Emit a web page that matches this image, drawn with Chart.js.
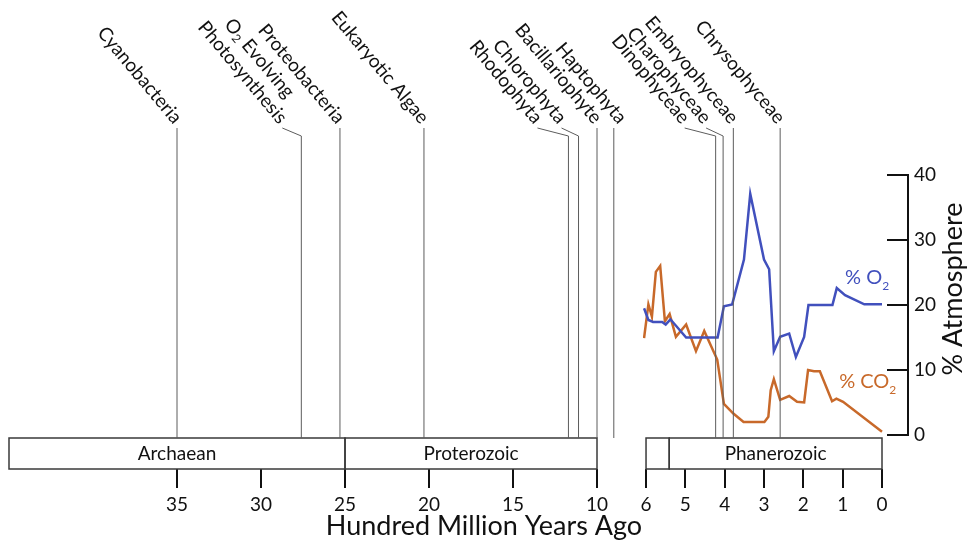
<!DOCTYPE html>
<html>
<head>
<meta charset="utf-8">
<script src="https://cdn.jsdelivr.net/npm/chart.js@4"></script>
<style>
  html, body { margin: 0; padding: 0; background: #fff; }
  #wrap { position: relative; width: 968px; height: 540px; }
  #wrap canvas { position: absolute; left: 0; top: 0; }
</style>
</head>
<body>
<div id="wrap">
  <canvas id="deep" width="968" height="540"></canvas>
  <canvas id="recent" width="968" height="540"></canvas>
</div>
<script>
// atmosphere over the last ~600 My (x: hundred million years ago, y: %)
const o2Age = [6.05, 5.94, 5.82, 5.59, 5.5, 5.38, 4.98, 4.18, 4.02, 3.81, 3.51, 3.35, 3.0, 2.87, 2.75, 2.59, 2.36, 2.19, 1.98, 1.87, 1.26, 1.15, 0.94, 0.45, 0];
const o2Pct = [19.5, 17.7, 17.4, 17.4, 17.0, 17.8, 15.0, 15.0, 19.8, 20.1, 27.0, 37.1, 27.0, 25.5, 12.9, 15.1, 15.6, 12.0, 15.1, 20.0, 20.0, 22.6, 21.5, 20.1, 20.1];
const co2Age = [6.05, 5.94, 5.85, 5.75, 5.64, 5.52, 5.4, 5.24, 4.98, 4.73, 4.52, 4.19, 4.02, 3.78, 3.52, 2.99, 2.89, 2.83, 2.75, 2.59, 2.36, 2.16, 1.98, 1.88, 1.73, 1.58, 1.27, 1.16, 0.99, 0];
const co2Pct = [14.9, 20.1, 18.2, 25.1, 26.0, 17.5, 18.6, 15.1, 17.0, 12.9, 16.0, 11.6, 4.8, 3.3, 2.0, 2.0, 2.8, 6.9, 8.6, 5.4, 6.0, 5.1, 5.0, 10.0, 9.8, 9.8, 5.2, 5.6, 5.1, 0.5];

const deepTicks = [35, 30, 25, 20, 15, 10];
const recentTicks = [6, 5, 4, 3, 2, 1, 0];
const pctTicks = [0, 10, 20, 30, 40];

const eonNames = ['Archaean', 'Proterozoic', 'Phanerozoic'];
const eonFrom = [45, 25, 5.41];
const eonTo = [25, 5.41, 0];

const deepNames = ['Cyanobacteria', 'O₂ Evolving\nPhotosynthesis', 'Proteobacteria', 'Eukaryotic Algae', 'Rhodophyta', 'Chlorophyta', 'Bacillariophyte', 'Haptophyta'];
const deepAges = [35, 27.6, 25.3, 20.3, 11.7, 11.1, 10, 9];
const recentNames = ['Dinophyceae', 'Charophyceae', 'Embryophyceae', 'Chrysophyceae'];
const recentAges = [4.23, 4.04, 3.78, 2.59];

// label nudges in px (leader = slanted tie to the line)
const labelStyle = {
  'O₂ Evolving\nPhotosynthesis': { dx: -19, leader: true },
  'Rhodophyta': { dx: -31, leader: true },
  'Chlorophyta': { dx: -17, leader: true },
  'Haptophyta': { dx: 8, leader: false },
  'Dinophyceae': { dx: -31, leader: true },
  'Charophyceae': { dx: -17, leader: true }
};

const FONT = 'Lato, "Open Sans", sans-serif';
const INK = '#111';
const RULE = '#5c5c5c';
const BLUE = '#4150bd';
const ORANGE = '#c8692a';

function richParts(str) {
  const out = [];
  str.split(/(₂)/).forEach(s => { if (s) out.push({ t: s === '₂' ? '2' : s, sub: s === '₂' }); });
  return out;
}
function fontFor(p, size) { return (p.sub ? Math.round(size * 0.62) : size) + 'px ' + FONT; }
function richWidth(ctx, str, size) {
  return richParts(str).reduce((w, p) => { ctx.font = fontFor(p, size); return w + ctx.measureText(p.t).width; }, 0);
}
function drawRich(ctx, str, x, y, size, align) {
  const parts = richParts(str);
  const total = richWidth(ctx, str, size);
  let cx = align === 'center' ? x - total / 2 : align === 'right' ? x - total : x;
  ctx.textAlign = 'left';
  parts.forEach(p => {
    ctx.font = fontFor(p, size);
    ctx.fillText(p.t, cx, y + (p.sub ? size * 0.28 : 0));
    cx += ctx.measureText(p.t).width;
  });
}

const eraPlugin = {
  id: 'eras',
  afterDraw(chart, args, opts) {
    const { ctx, chartArea } = chart;
    const xs = chart.scales.x;
    const bandBottom = chartArea.bottom, bandTop = bandBottom - 31;
    const lo = Math.min(...opts.span), hi = Math.max(...opts.span);
    ctx.save();
    eonNames.forEach((name, i) => {
      const a = Math.min(hi, eonFrom[i]), b = Math.max(lo, eonTo[i]);
      if (a <= b) return;
      const x1 = xs.getPixelForValue(a), x2 = xs.getPixelForValue(b);
      ctx.strokeStyle = '#3a3a3a';
      ctx.lineWidth = 1.5;
      ctx.strokeRect(x1, bandTop, x2 - x1, bandBottom - bandTop);
      ctx.font = '19px ' + FONT;
      if (ctx.measureText(name).width < x2 - x1 - 8) {
        ctx.fillStyle = INK;
        ctx.textAlign = 'center';
        ctx.textBaseline = 'middle';
        ctx.fillText(name, (x1 + x2) / 2, (bandTop + bandBottom) / 2);
      }
    });
    opts.names.forEach((name, i) => {
      const x = xs.getPixelForValue(opts.ages[i]);
      const st = labelStyle[name] || { dx: 0, leader: false };
      const top = 128;
      ctx.strokeStyle = RULE;
      ctx.lineWidth = 1;
      ctx.beginPath();
      if (st.leader) { ctx.moveTo(x + st.dx, top); ctx.lineTo(x, top + 8); }
      else ctx.moveTo(x, top);
      ctx.lineTo(x, bandTop);
      ctx.stroke();

      const lines = name.split('\n');
      ctx.save();
      ctx.translate(x + st.dx + 1, top - 7);
      ctx.rotate(50 * Math.PI / 180);
      ctx.fillStyle = INK;
      ctx.textBaseline = 'middle';
      const maxW = Math.max(...lines.map(l => richWidth(ctx, l, 19)));
      lines.forEach((l, k) => {
        drawRich(ctx, l, -maxW / 2, -(lines.length - 1 - k) * 22, 19, 'center');
      });
      ctx.restore();
    });
    ctx.restore();
  }
};

const framePlugin = {
  id: 'frame',
  afterDraw(chart, args, opts) {
    const { ctx, chartArea } = chart;
    const xs = chart.scales.x, ys = chart.scales.y;
    ctx.save();
    ctx.strokeStyle = INK;
    ctx.lineWidth = 2;
    ctx.beginPath();
    ctx.moveTo(chartArea.right, ys.getPixelForValue(Math.max(...pctTicks)) - 1);
    ctx.lineTo(chartArea.right, ys.getPixelForValue(Math.min(...pctTicks)) + 1);
    ctx.stroke();

    ctx.textBaseline = 'alphabetic';
    opts.tags.forEach(t => {
      ctx.fillStyle = t.color;
      drawRich(ctx, t.text, xs.getPixelForValue(t.at[0]), ys.getPixelForValue(t.at[1]), 20, 'left');
    });

    ctx.fillStyle = INK;
    ctx.textBaseline = 'middle';
    ctx.font = '27px ' + FONT;
    ctx.textAlign = 'center';
    ctx.fillText('Hundred Million Years Ago', 484, 526);

    ctx.translate(953, 289);
    ctx.rotate(-Math.PI / 2);
    ctx.fillText('% Atmosphere', 0, 0);
    ctx.restore();
  }
};

function ageAxis(min, max, ticks) {
  return {
    type: 'linear', reverse: true, min: min, max: max,
    afterBuildTicks: s => { s.ticks = ticks.map(v => ({ value: v })); },
    afterFit: s => { s.height = 71; },
    border: { display: false },
    grid: { drawOnChartArea: false, tickLength: 19, lineWidth: 2, color: INK },
    ticks: { padding: 5, color: INK, font: { family: FONT, size: 19 }, maxRotation: 0, autoSkip: false }
  };
}

new Chart(document.getElementById('deep'), {
  type: 'line',
  data: { datasets: [] },
  options: {
    responsive: false,
    animation: false,
    devicePixelRatio: 1,
    layout: { padding: { left: 9, right: 371, top: 100, bottom: 0 } },
    scales: {
      x: ageAxis(10, 45, deepTicks),
      y: { display: false, min: 0, max: 40 }
    },
    plugins: {
      legend: { display: false },
      tooltip: { enabled: false },
      eras: { span: [10, 45], names: deepNames, ages: deepAges }
    }
  },
  plugins: [eraPlugin]
});

new Chart(document.getElementById('recent'), {
  type: 'line',
  data: {
    datasets: [
      { label: '% O₂', data: o2Age.map((a, i) => ({ x: a, y: o2Pct[i] })), borderColor: BLUE, borderWidth: 2.5, pointRadius: 0, tension: 0 },
      { label: '% CO₂', data: co2Age.map((a, i) => ({ x: a, y: co2Pct[i] })), borderColor: ORANGE, borderWidth: 2.5, pointRadius: 0, tension: 0 }
    ]
  },
  options: {
    responsive: false,
    animation: false,
    devicePixelRatio: 1,
    layout: { padding: { left: 643, top: 175, right: 0, bottom: 0 } },
    scales: {
      x: ageAxis(-0.661, 6.077, recentTicks),
      y: {
        position: 'right', min: -5.23, max: 40,
        afterBuildTicks: s => { s.ticks = pctTicks.map(v => ({ value: v })); },
        afterFit: s => { s.width = 60; },
        border: { display: false },
        grid: { drawOnChartArea: false, tickLength: -21, lineWidth: 2, color: INK },
        ticks: { padding: 27, color: INK, font: { family: FONT, size: 19 } }
      }
    },
    plugins: {
      legend: { display: false },
      tooltip: { enabled: false },
      eras: { span: [0, 6], names: recentNames, ages: recentAges },
      frame: {
        tags: [
          { text: '% O₂', at: [0.94, 23.2], color: BLUE },
          { text: '% CO₂', at: [1.09, 7.2], color: ORANGE }
        ]
      }
    }
  },
  plugins: [eraPlugin, framePlugin]
});
</script>
</body>
</html>
